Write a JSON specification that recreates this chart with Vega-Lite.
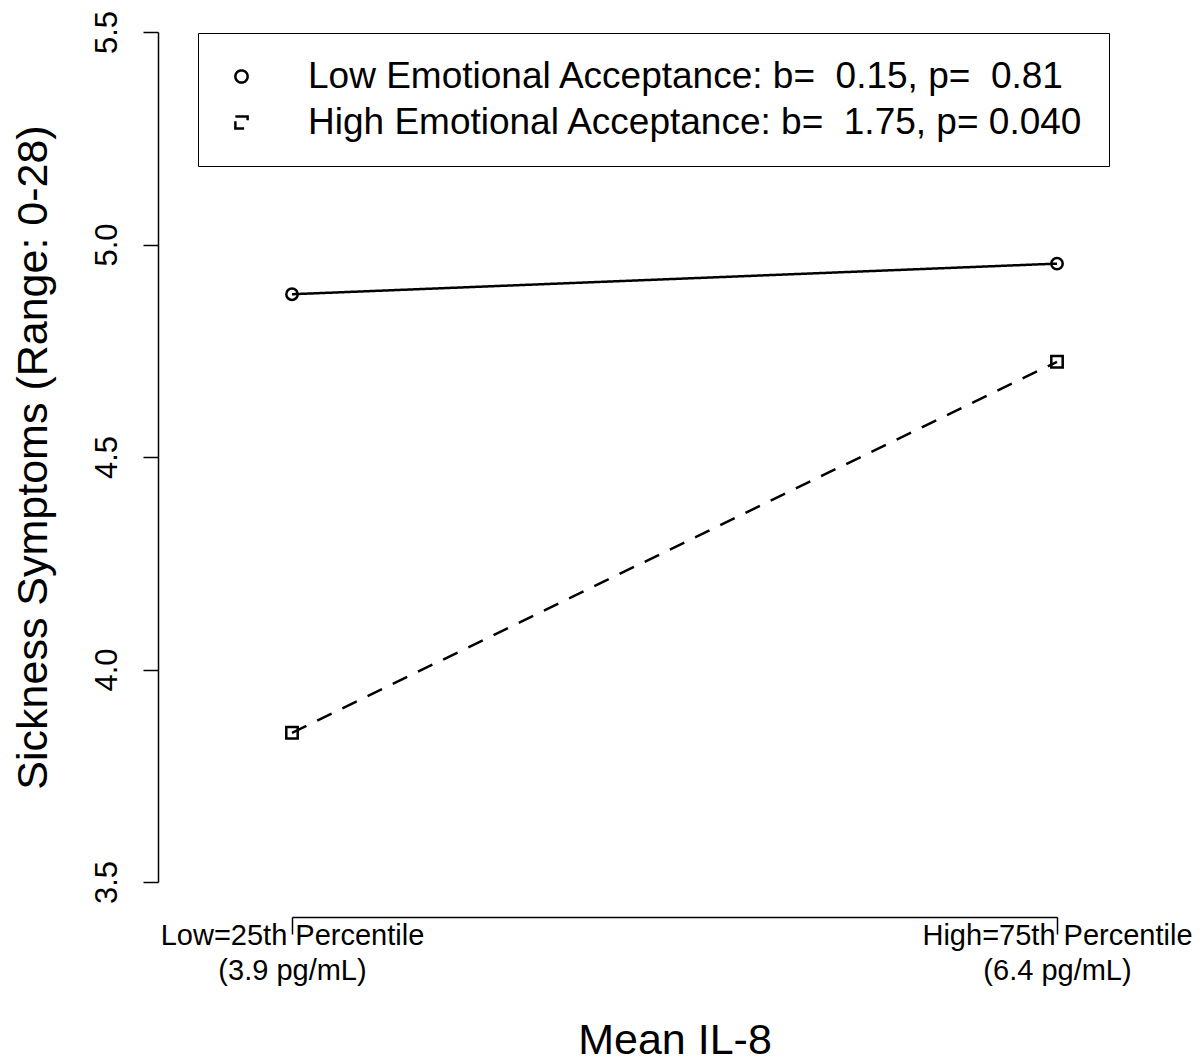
{
  "$schema": "https://vega.github.io/schema/vega-lite/v6.json",
  "autosize": {"type": "none"},
  "width": 765,
  "height": 850,
  "padding": {"left": 292, "top": 32, "right": 145, "bottom": 179},
  "background": "white",
  "config": {
    "view": {"stroke": null},
    "font": "Liberation Sans",
    "axis": {"labelFont": "Liberation Sans", "titleFont": "Liberation Sans", "labelColor": "black", "titleColor": "black", "titleFontWeight": "normal", "grid": false, "labelLimit": 1000},
    "legend": {"labelFont": "Liberation Sans"}
  },
  "data": {
    "values": [
      {"il8": 1, "symptoms": 4.883, "group": "Low Emotional Acceptance: b=\u00a0 0.15, p=\u00a0 0.81"},
      {"il8": 2, "symptoms": 4.955, "group": "Low Emotional Acceptance: b=\u00a0 0.15, p=\u00a0 0.81"},
      {"il8": 1, "symptoms": 3.851, "group": "High Emotional Acceptance: b=\u00a0 1.75, p= 0.040"},
      {"il8": 2, "symptoms": 4.724, "group": "High Emotional Acceptance: b=\u00a0 1.75, p= 0.040"}
    ]
  },
  "encoding": {
    "x": {
      "field": "il8", "type": "quantitative",
      "scale": {"domain": [1, 2], "nice": false, "zero": false},
      "axis": {
        "title": "Mean IL-8", "titleFontSize": 43, "titlePadding": 34,
        "offset": 35, "values": [1, 2],
        "domainColor": "black", "domainWidth": 1.5,
        "tickColor": "black", "tickWidth": 1.5, "tickSize": 17,
        "labelFontSize": 29, "labelLineHeight": 35, "labelPadding": -13,
        "labelOverlap": false, "labelFlush": false, "labelBound": false, "labelLimit": 1000,
        "labelExpr": "datum.value == 1 ? ['Low=25th Percentile', '(3.9 pg/mL)'] : ['High=75th Percentile', '(6.4 pg/mL)']"
      }
    },
    "y": {
      "field": "symptoms", "type": "quantitative",
      "scale": {"domain": [3.5, 5.5], "nice": false, "zero": false},
      "axis": {
        "title": "Sickness Symptoms (Range: 0-28)", "titleFontSize": 43, "titlePadding": 36,
        "offset": 134, "values": [3.5, 4, 4.5, 5, 5.5],
        "format": ".1f",
        "domainColor": "black", "domainWidth": 1.5,
        "tickColor": "black", "tickWidth": 1.5, "tickSize": 15,
        "labelFontSize": 31, "labelAngle": 270, "labelPadding": 20,
        "labelOverlap": false, "labelFlush": false, "labelBound": false
      }
    }
  },
  "layer": [
    {
      "mark": {"type": "line", "color": "black", "strokeWidth": 2.5},
      "encoding": {
        "strokeDash": {
          "field": "group", "type": "nominal",
          "scale": {
            "domain": ["Low Emotional Acceptance: b=\u00a0 0.15, p=\u00a0 0.81", "High Emotional Acceptance: b=\u00a0 1.75, p= 0.040"],
            "range": [[1, 0], [16, 12]]
          },
          "legend": {
            "title": null,
            "orient": "none", "legendX": -94, "legendY": 1,
            "strokeColor": "black", "padding": 25,
            "labelFontSize": 37, "labelColor": "black", "labelOffset": 48, "labelLimit": 2000,
            "symbolSize": 150, "symbolStrokeWidth": 2.5, "symbolStrokeColor": "black", "symbolFillColor": "transparent",
            "symbolOpacity": 1,
            "rowPadding": 8
          }
        }
      }
    },
    {
      "mark": {"type": "point", "filled": false, "color": "black", "strokeWidth": 2.5, "size": 130, "opacity": 1},
      "encoding": {
        "shape": {
          "field": "group", "type": "nominal",
          "scale": {
            "domain": ["Low Emotional Acceptance: b=\u00a0 0.15, p=\u00a0 0.81", "High Emotional Acceptance: b=\u00a0 1.75, p= 0.040"],
            "range": ["circle", "square"]
          },
          "legend": null
        }
      }
    }
  ]
}
